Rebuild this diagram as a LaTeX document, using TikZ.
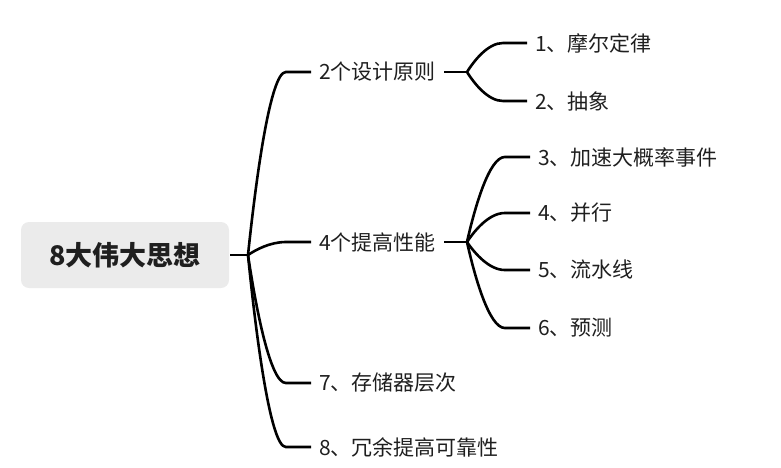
\documentclass[tikz,border=0pt]{standalone}
\usepackage{fontspec}
\setmainfont{Noto Sans CJK SC}
\usetikzlibrary{calc}

\begin{document}
\begin{tikzpicture}[x=1pt,y=-1pt,line width=2.6pt,
    every node/.style={font=\fontsize{21}{25}\selectfont,inner sep=7pt,anchor=west,text=black!88},
    branch/.style={to path={.. controls ($(\tikztostart)!0.45!(\tikztostart|-\tikztotarget)!0.12!(\tikztotarget|-\tikztostart)$)
        and ($(\tikztostart|-\tikztotarget)!0.35!(\tikztotarget)$)
        .. ($(\tikztostart|-\tikztotarget)!0.6!(\tikztotarget)$) -- (\tikztotarget)}}]
    \useasboundingbox (0,0) rectangle (781,467);
    \node[anchor=center,fill=black!8,rounded corners=8pt,minimum width=208pt,minimum height=66pt,
        font=\fontsize{27}{32}\selectfont\bfseries](r) at (125,255) {8大伟大思想};
    \coordinate(j) at (248,255);
    \node(a) at (311,72)  {2个设计原则};
    \node(b) at (311,242) {4个提高性能};
    \node(c) at (311,383) {7、存储器层次};
    \node(d) at (311,447) {8、冗余提高可靠性};
    \coordinate(ja) at (467,72);
    \coordinate(jb) at (467,242);
    \node(a1) at (527,43)  {1、摩尔定律};
    \node(a2) at (527,101) {2、抽象};
    \node(b1) at (530,157) {3、加速大概率事件};
    \node(b2) at (530,213) {4、并行};
    \node(b3) at (530,270) {5、流水线};
    \node(b4) at (530,328) {6、预测};
    \draw (r.east) -- (j);
    \draw (j) to[branch] (a.west);
    \draw (j) to[branch] (b.west);
    \draw (j) to[branch] (c.west);
    \draw (j) to[branch] (d.west);
    \draw (a.east) -- (ja);
    \draw (b.east) -- (jb);
    \draw (ja) to[branch] (a1.west);
    \draw (ja) to[branch] (a2.west);
    \draw (jb) to[branch] (b1.west);
    \draw (jb) to[branch] (b2.west);
    \draw (jb) to[branch] (b3.west);
    \draw (jb) to[branch] (b4.west);
\end{tikzpicture}
\end{document}
